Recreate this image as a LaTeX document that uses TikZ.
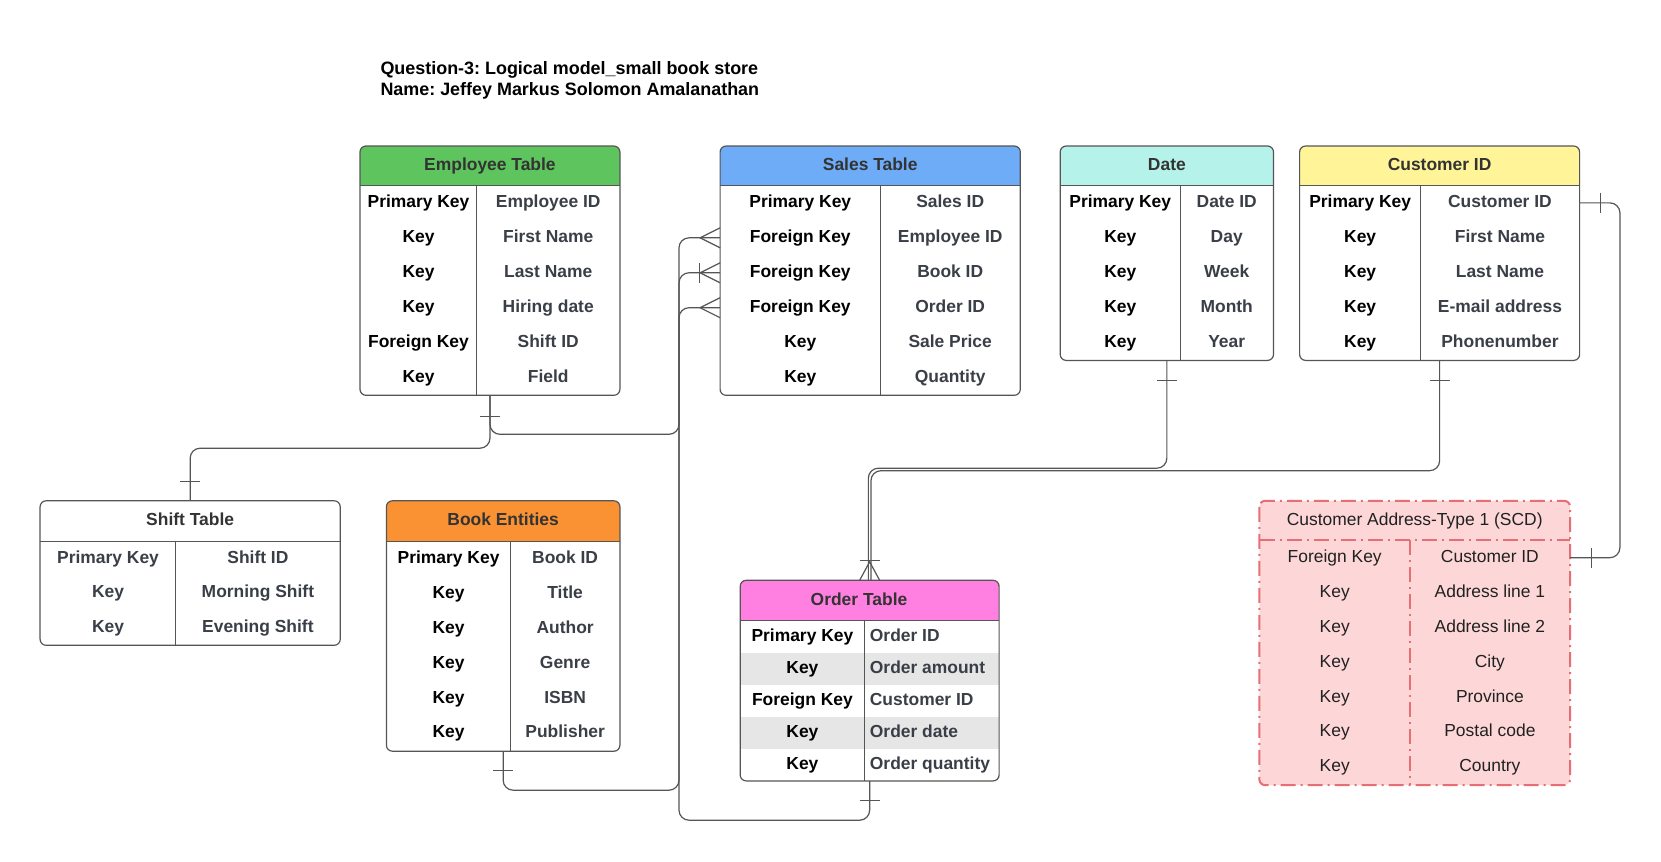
\documentclass[tikz,border=0pt]{standalone}
\usepackage{fontspec}
\setmainfont{Liberation Sans}
\usetikzlibrary{calc}
\frenchspacing
\definecolor{kantengrau}{RGB}{85,85,85}
\definecolor{wertgrau}{RGB}{58,63,71}
\definecolor{kopfgrau}{RGB}{51,51,51}
\definecolor{empgruen}{RGB}{94,196,94}
\definecolor{salblau}{RGB}{110,172,248}
\definecolor{datmint}{RGB}{181,242,234}
\definecolor{cusgelb}{RGB}{255,245,152}
\definecolor{bokorange}{RGB}{250,146,52}
\definecolor{ordpink}{RGB}{255,128,224}
\definecolor{ordzeile}{RGB}{230,230,230}
\definecolor{adrrosa}{RGB}{253,215,215}
\definecolor{adrrot}{RGB}{232,110,118}

\tikzset{
  tblbody/.style={fill=white,inner sep=0pt,rounded corners=6bp},
  tbledge/.style={draw=kantengrau,line width=1.2bp},
  adredge/.style={draw=adrrot,line width=2bp,dash pattern=on 15bp off 5bp on 2bp off 5bp},
  conn/.style={draw=kantengrau,line width=1.2bp,rounded corners=10bp},
  tick/.style={draw=kantengrau,line width=1.2bp},
  titeltxt/.style={font=\fontsize{18}{21.2}\selectfont\bfseries,align=left,anchor=west,inner sep=0pt},
  hdrtxt/.style={font=\fontsize{17.5}{20}\selectfont\bfseries,text=kopfgrau,inner sep=0pt,
                 text height=12.6bp,text depth=3.7bp},
  keytxt/.style={font=\fontsize{17.5}{20}\selectfont\bfseries,text=black,inner sep=0pt,
                 text height=12.6bp,text depth=3.7bp},
  valtxt/.style={keytxt,text=wertgrau},
  adrtxt/.style={keytxt,font=\fontsize{17.5}{20}\selectfont,text=black!87},
}

\begin{document}
\begin{tikzpicture}[yscale=-1,x=1bp,y=1bp]

  \useasboundingbox (0,0) rectangle (1661,861);
  \fill[white] (0,0) rectangle (1661,861);

  % --- Titel ---
  \node[titeltxt] (titel) at (380.3,80.6)
    {Question-3: Logical model\_small book store\\Name: Jeffey Markus Solomon Amalanathan};

  % ======================================================================
  % Employee Table
  % ======================================================================
  \node[tblbody,minimum width=259.5bp,minimum height=248.9bp] (emp) at (489.95,270.65) {};
  \begin{scope}
    \clip[rounded corners=6bp] (emp.north west) rectangle (emp.south east);
    \fill[empgruen] (emp.north west) rectangle (619.7,185.4);
  \end{scope}
  \draw[tbledge,rounded corners=6bp] (emp.north west) rectangle (emp.south east);
  \draw[tbledge] (360.2,185.4) -- (619.7,185.4);
  \draw[tbledge] (476.7,185.4) -- (476.7,395.1);
  \node[hdrtxt] (emp-h) at (489.95,165.8) {Employee Table};
  \foreach \k/\v [count=\i] in {Primary Key/Employee ID,Key/First Name,Key/Last Name,
                               Key/Hiring date,Foreign Key/Shift ID,Key/Field}{
    \node[keytxt] (emp-k\i) at (418.5,{185.4+(\i-0.5)*34.95}) {\k};
    \node[valtxt] (emp-v\i) at (548.2,{185.4+(\i-0.5)*34.95}) {\v};
  }

  % ======================================================================
  % Sales Table
  % ======================================================================
  \node[tblbody,minimum width=299.8bp,minimum height=248.9bp] (sal) at (870.2,270.65) {};
  \begin{scope}
    \clip[rounded corners=6bp] (sal.north west) rectangle (sal.south east);
    \fill[salblau] (sal.north west) rectangle (1020.1,185.4);
  \end{scope}
  \draw[tbledge,rounded corners=6bp] (sal.north west) rectangle (sal.south east);
  \draw[tbledge] (720.3,185.4) -- (1020.1,185.4);
  \draw[tbledge] (880.3,185.4) -- (880.3,395.1);
  \node[hdrtxt] (sal-h) at (870.2,165.8) {Sales Table};
  \foreach \k/\v [count=\i] in {Primary Key/Sales ID,Foreign Key/Employee ID,Foreign Key/Book ID,
                               Foreign Key/Order ID,Key/Sale Price,Key/Quantity}{
    \node[keytxt] (sal-k\i) at (800.3,{185.4+(\i-0.5)*34.95}) {\k};
    \node[valtxt] (sal-v\i) at (950.2,{185.4+(\i-0.5)*34.95}) {\v};
  }

  % ======================================================================
  % Date
  % ======================================================================
  \node[tblbody,minimum width=212.9bp,minimum height=214bp] (dat) at (1166.85,253.2) {};
  \begin{scope}
    \clip[rounded corners=6bp] (dat.north west) rectangle (dat.south east);
    \fill[datmint] (dat.north west) rectangle (1273.3,185.4);
  \end{scope}
  \draw[tbledge,rounded corners=6bp] (dat.north west) rectangle (dat.south east);
  \draw[tbledge] (1060.4,185.4) -- (1273.3,185.4);
  \draw[tbledge] (1180.1,185.4) -- (1180.1,360.2);
  \node[hdrtxt] (dat-h) at (1166.85,165.8) {Date};
  \foreach \k/\v [count=\i] in {Primary Key/Date ID,Key/Day,Key/Week,Key/Month,Key/Year}{
    \node[keytxt] (dat-k\i) at (1120.25,{185.4+(\i-0.5)*34.95}) {\k};
    \node[valtxt] (dat-v\i) at (1226.7,{185.4+(\i-0.5)*34.95}) {\v};
  }

  % ======================================================================
  % Customer ID
  % ======================================================================
  \node[tblbody,minimum width=279.6bp,minimum height=214bp] (cus) at (1439.6,253.2) {};
  \begin{scope}
    \clip[rounded corners=6bp] (cus.north west) rectangle (cus.south east);
    \fill[cusgelb] (cus.north west) rectangle (1579.4,185.4);
  \end{scope}
  \draw[tbledge,rounded corners=6bp] (cus.north west) rectangle (cus.south east);
  \draw[tbledge] (1299.8,185.4) -- (1579.4,185.4);
  \draw[tbledge] (1420.5,185.4) -- (1420.5,360.2);
  \node[hdrtxt] (cus-h) at (1439.6,165.8) {Customer ID};
  \foreach \k/\v [count=\i] in {Primary Key/Customer ID,Key/First Name,Key/Last Name,
                               Key/E-mail address,Key/Phonenumber}{
    \node[keytxt] (cus-k\i) at (1360.15,{185.4+(\i-0.5)*34.95}) {\k};
    \node[valtxt] (cus-v\i) at (1499.95,{185.4+(\i-0.5)*34.95}) {\v};
  }

  % ======================================================================
  % Shift Table (ohne Farbkopf)
  % ======================================================================
  \node[tblbody,minimum width=299.7bp,minimum height=144.1bp] (shf) at (190.15,573.05) {};
  \draw[tbledge,rounded corners=6bp] (shf.north west) rectangle (shf.south east);
  \draw[tbledge] (40.3,541.3) -- (340,541.3);
  \draw[tbledge] (175.8,541.3) -- (175.8,645.1);
  \node[hdrtxt] (shf-h) at (190.15,521.1) {Shift Table};
  \foreach \k/\v [count=\i] in {Primary Key/Shift ID,Key/Morning Shift,Key/Evening Shift}{
    \node[valtxt] (shf-k\i) at (108.05,{541.3+(\i-0.5)*34.6}) {\k};
    \node[valtxt] (shf-v\i) at (257.9,{541.3+(\i-0.5)*34.6}) {\v};
  }

  % ======================================================================
  % Book Entities
  % ======================================================================
  \node[tblbody,minimum width=233.1bp,minimum height=250bp] (bok) at (503.15,626) {};
  \begin{scope}
    \clip[rounded corners=6bp] (bok.north west) rectangle (bok.south east);
    \fill[bokorange] (bok.north west) rectangle (619.7,541.3);
  \end{scope}
  \draw[tbledge,rounded corners=6bp] (bok.north west) rectangle (bok.south east);
  \draw[tbledge] (386.6,541.3) -- (619.7,541.3);
  \draw[tbledge] (510.6,541.3) -- (510.6,751);
  \node[hdrtxt] (bok-h) at (503.15,521.1) {Book Entities};
  \foreach \k/\v [count=\i] in {Primary Key/Book ID,Key/Title,Key/Author,Key/Genre,
                               Key/ISBN,Key/Publisher}{
    \node[keytxt] (bok-k\i) at (448.6,{541.3+(\i-0.5)*34.95}) {\k};
    \node[valtxt] (bok-v\i) at (565.15,{541.3+(\i-0.5)*34.95}) {\v};
  }

  % ======================================================================
  % Order Table (Zeilen 2 und 4 grau hinterlegt, Werte linksbuendig)
  % ======================================================================
  \node[tblbody,minimum width=258.5bp,minimum height=200.2bp] (ord) at (869.65,680.6) {};
  \begin{scope}
    \clip[rounded corners=6bp] (ord.north west) rectangle (ord.south east);
    \fill[ordpink] (ord.north west) rectangle (998.9,620.7);
  \end{scope}
  \fill[ordzeile] (740.4,652.7) rectangle (998.9,684.7);
  \fill[ordzeile] (740.4,716.7) rectangle (998.9,748.7);
  \draw[tbledge,rounded corners=6bp] (ord.north west) rectangle (ord.south east);
  \draw[tbledge] (740.4,620.7) -- (998.9,620.7);
  \draw[tbledge] (864.4,620.7) -- (864.4,780.7);
  \node[hdrtxt] (ord-h) at (859,600.6) {Order Table};
  \foreach \k/\v [count=\i] in {Primary Key/Order ID,Key/Order amount,Foreign Key/Customer ID,
                               Key/Order date,Key/Order quantity}{
    \node[keytxt] (ord-k\i) at (802.4,{620.7+(\i-0.5)*32}) {\k};
    \node[valtxt,anchor=west] (ord-v\i) at (869.7,{620.7+(\i-0.5)*32}) {\v};
  }

  % ======================================================================
  % Customer Address-Type 1 (SCD): rosa, strichpunktierte Kontur
  % ======================================================================
  \node[tblbody,fill=adrrosa,minimum width=310.4bp,minimum height=284bp] (adr) at (1414.7,643) {};
  \draw[adredge,rounded corners=6bp] (adr.north west) rectangle (adr.south east);
  \draw[adredge] (1259.5,540.2) -- (1569.9,540.2);
  \draw[adredge] (1409.9,540.2) -- (1409.9,785);
  \node[hdrtxt,font=\fontsize{17.5}{20}\selectfont,text=black!87] (adr-h) at (1414.7,520.6)
    {Customer Address-Type 1 (SCD)};
  \foreach \k/\v [count=\i] in {Foreign Key/Customer ID,Key/Address line 1,Key/Address line 2,
                               Key/City,Key/Province,Key/Postal code,Key/Country}{
    \node[adrtxt] (adr-k\i) at (1334.7,{540.2+(\i-0.5)*34.97}) {\k};
    \node[adrtxt] (adr-v\i) at (1489.9,{540.2+(\i-0.5)*34.97}) {\v};
  }

  % ======================================================================
  % Beziehungen
  % ======================================================================
  % gemeinsame Senkrechte links der Sales Table
  \coordinate (bus) at (679,0);

  % --- Employee -> Shift (1:1) ---
  \draw[conn] (emp.south) -- ++(0,52.9) -| (shf.north);
  \draw[tick] ($(emp.south)+(-10,21)$) -- ++(20,0);
  \draw[tick] ($(shf.north)+(-10,-19)$) -- ++(20,0);

  % --- Employee / Book / Order -> Sales (1:n) ---
  \draw[conn] (emp.south) -- ++(0,39) -| (bus |- sal-k2) -- (sal.west |- sal-k2);
  \draw[conn] (bok.south) -- ++(0,39) -| (bus |- sal-k3) -- (sal.west |- sal-k3);
  \draw[conn] (ord.south) -- ++(0,39.3) -| (bus |- sal-k4) -- (sal.west |- sal-k4);
  \draw[tick] ($(bok.south)+(-10,19)$) -- ++(20,0);
  \draw[tick] ($(ord.south)+(-10,19.3)$) -- ++(20,0);
  \draw[tick] ($(sal.west |- sal-k3)+(-21,-10)$) -- ++(0,20);
  % Kraehenfuesse an der Sales Table
  \foreach \i in {2,3,4}
    \draw[tick] ($(sal.west |- sal-k\i)+(0,-10)$) -- ++(-20,10) -- ++(20,10);

  % --- Date / Customer -> Order (1:n, doppelt gefuehrt) ---
  \draw[conn] (dat.south) -- ++(0,107.8) -| ($(ord.north)+(-1.3,0)$);
  \draw[conn] (cus.south) -- ++(0,110.3) -| ($(ord.north)+(1.3,0)$);
  \draw[tick] ($(dat.south)+(-10,19.8)$) -- ++(20,0);
  \draw[tick] ($(cus.south)+(-10,19.8)$) -- ++(20,0);
  \draw[tick] ($(ord.north)+(-10,-19.5)$) -- ++(20,0);
  \draw[tick] ($(ord.north)+(-10,0)$) -- ++(10,-18.5) -- ++(10,18.5);

  % --- Customer ID -> Customer Address (1:1) ---
  \draw[conn] (cus.east |- cus-k1) -- ++(40.3,0) |- (adr.east |- adr-k1);
  \draw[tick] ($(cus.east |- cus-k1)+(20.6,-10)$) -- ++(0,20);
  \draw[tick] ($(adr.east |- adr-k1)+(21.5,-10)$) -- ++(0,20);

\end{tikzpicture}
\end{document}
